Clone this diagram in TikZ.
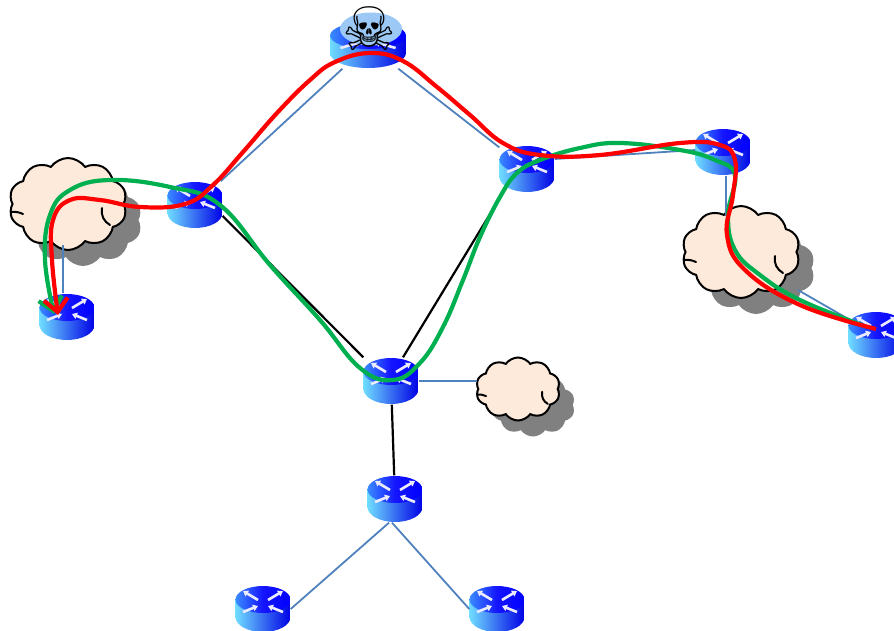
\documentclass[tikz,border=0pt]{standalone}
\usepackage{fontspec}
\usetikzlibrary{arrows.meta, shadows, shapes.geometric, shapes.symbols}
\newfontfamily\symbolfont{DejaVu Sans}
\definecolor{linkblue}{HTML}{4F81BD}
\definecolor{cloudfill}{HTML}{FDEADA}
\definecolor{pathgreen}{HTML}{00B050}
\definecolor{routerlight}{HTML}{6FDCFF}
\definecolor{routerface}{HTML}{3A8CFF}
\definecolor{skullblob}{HTML}{9CC8F5}
% #1 half width, #2 stretch of the white arrows
\newcommand{\routerdraw}[2]{%
  \begin{scope}[shift={(path picture bounding box.center)}]
    \path[left color=routerlight, right color=blue!90!black]
      (-#1,-9.5) -- (-#1,8) arc[start angle=180, end angle=360, x radius=#1, y radius=-15] -- (#1,-9.5) -- cycle;
    \path[left color=routerface, right color=blue, middle color=blue!92!white]
      (0,-9.5) ellipse[x radius=#1, y radius=13.5];
    \foreach \sx in {-1,1} {
      \draw[white!92!blue, line width=2.6, -{Triangle[length=5, width=6.5]}] (\sx*#2*5,-9) -- (\sx*#2*20,-18);
      \draw[white!92!blue, line width=2.6, {Triangle[length=5, width=6.5]}-] (\sx*#2*5,-3) -- (\sx*#2*20,3);
    }
  \end{scope}}
\tikzstyle{routerbase}=[rectangle, inner sep=0pt, minimum height=47pt]
\tikzstyle{router}=[routerbase, minimum width=55pt, path picture={\routerdraw{27.5}{1}}]
\tikzstyle{bigrouter}=[routerbase, minimum width=76pt, path picture={\routerdraw{38}{1.38}}]
\tikzstyle{cloudnode}=[cloud, cloud puffs=10, cloud puff arc=110, cloud ignores aspect, draw=black, line width=2pt, fill=cloudfill, inner sep=0pt, general shadow={shadow xshift=15pt, shadow yshift=-16pt, fill=gray, draw=none}]
\tikzstyle{puff}=[draw=black, line width=2pt, line cap=round]
\tikzstyle{link}=[draw=linkblue, line width=1.8pt]
\tikzstyle{trunk}=[draw=black, line width=2.2pt]
\tikzstyle{attack}=[line width=4.2pt, -{Straight Barb[length=13pt, width=24pt, line width=4.2pt]}]
% small arcs inside a cloud, #1 the cloud, #2 its scale
\newcommand{\cloudarcs}[2]{%
  \begin{scope}[shift={(#1.center)}, scale=#2]
    \draw[puff] (34,4) to[bend right=35] (42,21);
    \draw[puff] (-57,8) to[bend left=15] (-45,10);
  \end{scope}}
\begin{document}
\begin{tikzpicture}[x=1pt, y=-1pt]
    \path[use as bounding box, clip] (0,0) rectangle (894,630);

    \node[cloudnode, minimum width=118pt, minimum height=92pt] (cloudl) at (68,204) {};
    \node[cloudnode, minimum width=118pt, minimum height=92pt] (cloudr) at (741,252) {};
    \node[cloudnode, minimum width=84pt, minimum height=63pt] (clouds) at (518,389) {};
    \cloudarcs{cloudl}{1}
    \cloudarcs{cloudr}{1}
    \cloudarcs{clouds}{0.71}

    \node[bigrouter] (rtop)  at (368,45)  {};
    \node[router]    (rleft) at (195,205) {};
    \node[router]    (rlow)  at (67,317)  {};
    \node[router]    (rmid)  at (527,169) {};
    \node[router]    (rright) at (723,152) {};
    \node[router]    (rfar)  at (876,335) {};
    \node[router]    (rcore) at (391,381) {};
    \node[router]    (redge) at (395,499) {};
    \node[router]    (rsw)   at (263,609) {};
    \node[router]    (rse)   at (497,609) {};

    \node[ellipse, fill=skullblob, minimum width=62pt, minimum height=33pt, inner sep=0pt] (blob) at (371,29) {};
    \node[inner sep=0pt, font=\symbolfont\fontsize{60}{60}\selectfont] (skull) at (369,29) {☠};

    \coordinate (cltail) at (63,245);
    \coordinate (crtail) at (726,216);
    \coordinate (crfoot) at (798,290);
    \coordinate (redhead) at (58,315);
    \coordinate (greenhead) at (54,314);
    \coordinate (redstart) at (876,329);
    \coordinate (greenstart) at (862,325);

    % access links
    \draw[link] (rtop) -- (rleft);
    \draw[link] (rtop) -- (rmid);
    \draw[link] ([yshift=10pt]rmid.east) -- ([yshift=2pt]rright.west);
    \draw[link] (rright.south -| crtail) -- (crtail);
    \draw[link] (crfoot) -- (rfar);
    \draw[link] (cltail) -- (cltail |- rlow.north);
    \draw[link] (rcore.east) -- (rcore.east -| clouds.west);
    \draw[link] ([xshift=-6pt]redge.south) -- (rsw.east);
    \draw[link] ([xshift=-3pt]redge.south) -- (rse.west);

    % core links
    \draw[trunk] ([yshift=-11pt]rleft.east) -- (rcore.north west);
    \draw[trunk] ([xshift=-24pt]rmid.south) -- ([xshift=12pt]rcore.north);
    \draw[trunk] (rcore) -- (redge);

    % the two routes
    \draw[attack, pathgreen] plot[smooth, tension=0.7] coordinates {(greenstart) (800,300) (760,275) (735,250) (728,215) (735,175) (715,160) (680,150) (620,143) (580,148) (540,160) (517,173) (500,197) (480,237) (463,280) (443,327) (420,363) (393,380) (360,368) (320,320) (270,265) (220,205) (170,187) (110,180) (70,190) (50,215) (45,260) (greenhead)};
    \draw[attack, red] plot[smooth, tension=0.7] coordinates {(redstart) (800,305) (745,270) (727,235) (733,195) (735,160) (720,145) (680,143) (600,155) (540,155) (503,143) (470,115) (437,87) (403,61) (370,53) (335,62) (310,80) (277,113) (243,152) (213,185) (185,204) (140,207) (100,200) (70,200) (53,220) (52,260) (redhead)};
\end{tikzpicture}
\end{document}
